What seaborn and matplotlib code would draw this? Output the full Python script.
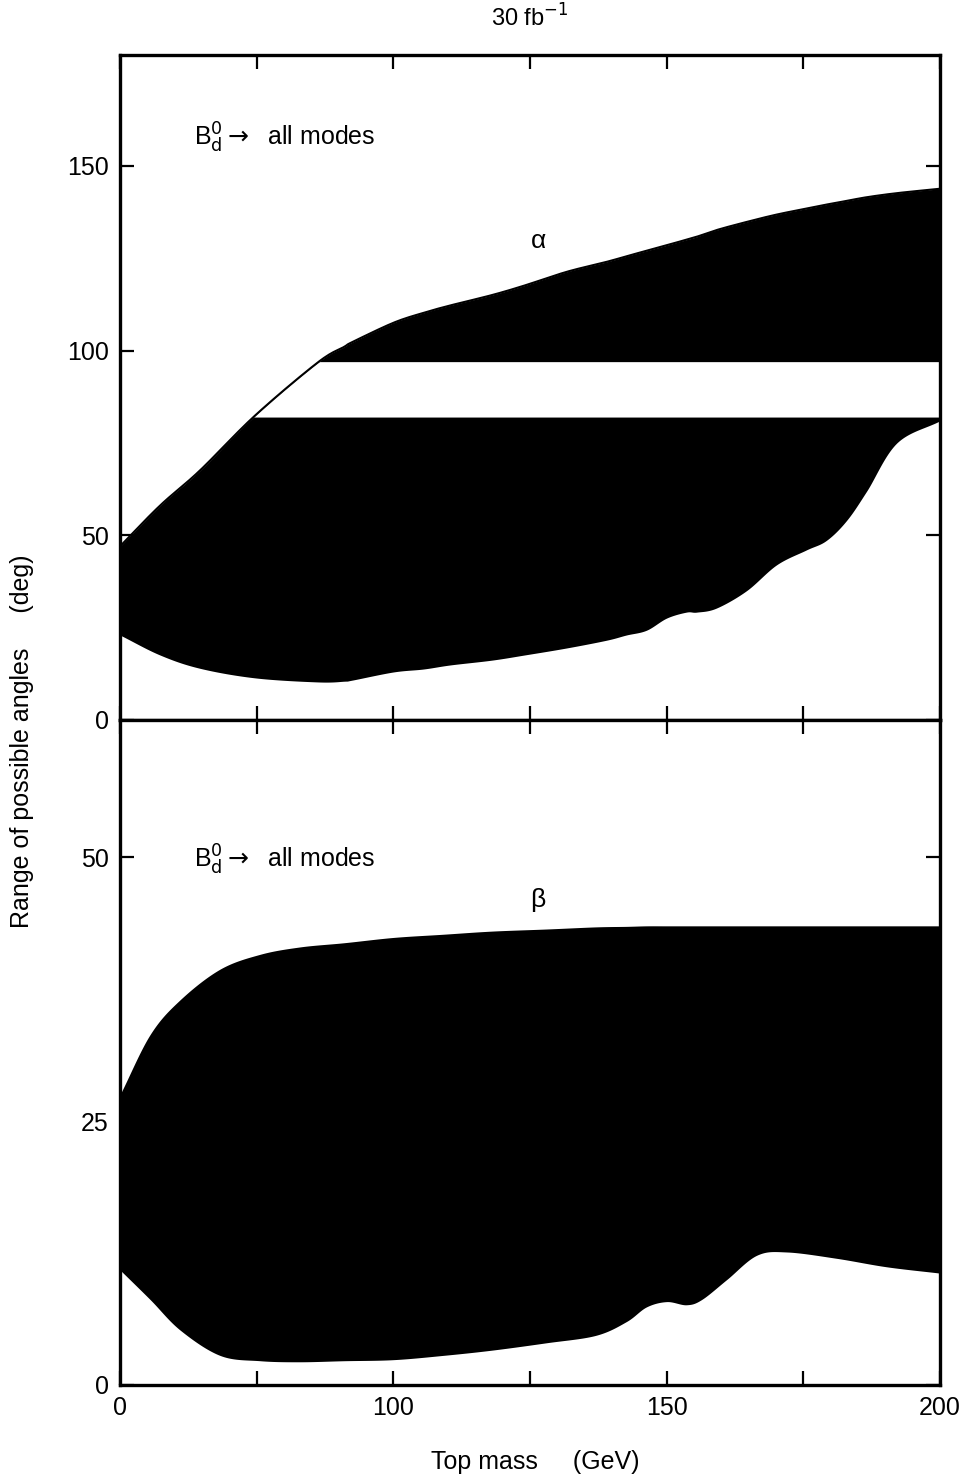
import numpy as np
import matplotlib
matplotlib.use("Agg")
import matplotlib.pyplot as plt
import seaborn as sns

sns.set_style("ticks")
plt.rcParams['font.family'] = ['Liberation Sans', 'DejaVu Sans']
plt.rcParams['text.color'] = 'black'
plt.rcParams['axes.edgecolor'] = 'black'
plt.rcParams['xtick.color'] = 'black'
plt.rcParams['ytick.color'] = 'black'
plt.rcParams['axes.labelcolor'] = 'black'

# ---- data ----
mass = [50.0, 57.3, 64.6, 74.7, 86.2, 91.0, 92.5, 100.0, 105.5, 110.4, 118.0, 124.0, 131.7,
        139.0, 142.6, 146.3, 150.0, 153.6, 155.5, 159.1, 164.6, 170.1, 175.5, 179.2,
        182.9, 186.6, 192.1, 200.0]
alpha_upper = [47.0, 58.0, 67.5, 82.4, 96.8, 101.0, 102.3, 107.5, 110.2, 112.2, 115.0, 117.6,
               121.3, 124.0, 125.5, 127.0, 128.5, 130.0, 130.8, 132.6, 134.8, 136.8, 138.4,
               139.5, 140.5, 141.5, 142.6, 143.8]
alpha_lower = [23.0, 17.6, 14.0, 11.4, 10.3, 10.5, 10.8, 13.0, 13.8, 14.9, 16.2, 17.6,
               19.5, 21.6, 23.0, 24.3, 27.6, 29.2, 29.2, 30.3, 35.0, 42.0, 46.0,
               48.6, 54.0, 62.0, 75.0, 81.0]
alpha_gap = (82.0, 97.0)

beta_mass = [50.0, 55.5, 61.0, 68.3, 75.6, 82.9, 91.0, 100.0, 109.0, 118.0, 128.0, 137.0,
             142.6, 146.3, 150.0, 153.6, 156.4, 161.0, 166.5, 172.0, 181.1, 190.2, 200.0]
beta_upper = [27.5, 33.2, 36.5, 39.4, 40.8, 41.5, 41.9, 42.4, 42.7, 43.0, 43.2, 43.4,
              43.45, 43.5, 43.5, 43.5, 43.5, 43.5, 43.5, 43.5, 43.5, 43.5, 43.5]
beta_lower = [10.9, 8.1, 5.2, 2.8, 2.3, 2.2, 2.3, 2.4, 2.8, 3.3, 4.0, 4.7,
              6.0, 7.4, 7.9, 7.6, 8.1, 10.0, 12.3, 12.6, 12.0, 11.2, 10.6]

x_ticks = [50, 100, 150, 200]
x_ticklabels = ["0", "100", "150", "200"]
x_minor = [75, 125, 175]
alpha_yticks = [0, 50, 100, 150]
beta_yticks = [0, 25, 50]


def smooth(xs, ys, n=20):
    """Catmull-Rom curve through the read points (drawing only)."""
    xs = np.asarray(xs, float)
    ys = np.asarray(ys, float)
    px = np.concatenate([[2 * xs[0] - xs[1]], xs, [2 * xs[-1] - xs[-2]]])
    py = np.concatenate([[2 * ys[0] - ys[1]], ys, [2 * ys[-1] - ys[-2]]])
    ox, oy = [], []
    t = np.linspace(0, 1, n, endpoint=False)
    for i in range(1, len(px) - 2):
        for arr, out in ((px, ox), (py, oy)):
            p0, p1, p2, p3 = arr[i - 1], arr[i], arr[i + 1], arr[i + 2]
            out.append(0.5 * ((2 * p1) + (-p0 + p2) * t +
                              (2 * p0 - 5 * p1 + 4 * p2 - p3) * t ** 2 +
                              (-p0 + 3 * p1 - 3 * p2 + p3) * t ** 3))
    ox = np.concatenate(ox + [[xs[-1]]])
    oy = np.concatenate(oy + [[ys[-1]]])
    return ox, oy


def on_grid(xs, ys, grid):
    sx, sy = smooth(xs, ys)
    order = np.argsort(sx)
    return np.interp(grid, sx[order], sy[order])


# ---- figure ----
fig = plt.figure(figsize=(9.68, 14.82), dpi=100)
ax1 = fig.add_axes([120/968, 1-720/1482, 820/968, 665/1482])
ax2 = fig.add_axes([120/968, 1-1385/1482, 820/968, 665/1482])

grid = np.linspace(50, 200, 1500)

# alpha panel
up = on_grid(mass, alpha_upper, grid)
lo = on_grid(mass, alpha_lower, grid)
ax1.fill_between(grid, lo, up, color="black", lw=0)
ax1.fill_between(grid, alpha_gap[0], np.clip(up, alpha_gap[0], alpha_gap[1]),
                 color="white", lw=0)
sns.lineplot(x=grid, y=up, ax=ax1, color="black", lw=1.5)

# beta panel
bu = on_grid(beta_mass, beta_upper, grid)
bl = on_grid(beta_mass, beta_lower, grid)
ax2.fill_between(grid, bl, bu, color="black", lw=0)

for ax in (ax1, ax2):
    ax.set_xlim(50, 200)
    ax.set_xticks(x_ticks)
    ax.set_xticks(x_minor, minor=True)
    ax.tick_params(which="both", direction="in", top=True, right=True,
                   labelsize=18, width=1.6)
    ax.tick_params(which="major", length=10, pad=8)
    ax.tick_params(which="minor", length=10)
    for s in ax.spines.values():
        s.set_linewidth(2.4)
        s.set_visible(True)
        s.set_color("black")

ax1.set_ylim(0, 180)
ax1.set_yticks(alpha_yticks)
ax1.set_xticklabels([])
ax2.set_ylim(0, 63)
ax2.set_yticks(beta_yticks)
ax2.set_xticklabels(x_ticklabels)

label = r"B$_{\rm d}^{\rm 0}$$\rightarrow$  all modes"
ax1.text(0.09, 0.875, label, transform=ax1.transAxes,
         fontsize=18, ha="left", va="center")
ax1.text(0.51, 0.72, "α", transform=ax1.transAxes, fontsize=19, ha="center", va="center")
ax2.text(0.09, 0.79, label, transform=ax2.transAxes,
         fontsize=18, ha="left", va="center")
ax2.text(0.51, 0.73, "β", transform=ax2.transAxes, fontsize=19, ha="center", va="center")

fig.text(530/968, 1-18/1482, r"30 fb$^{-1}$", fontsize=17, ha="center", va="center")
fig.text(22/968, 0.5, "Range of possible angles     (deg)", rotation=90,
         fontsize=18, ha="center", va="center")
fig.text(535/968, 1-1462/1482, "Top mass     (GeV)", fontsize=18, ha="center", va="center")

fig.savefig("out.png", dpi=100)
